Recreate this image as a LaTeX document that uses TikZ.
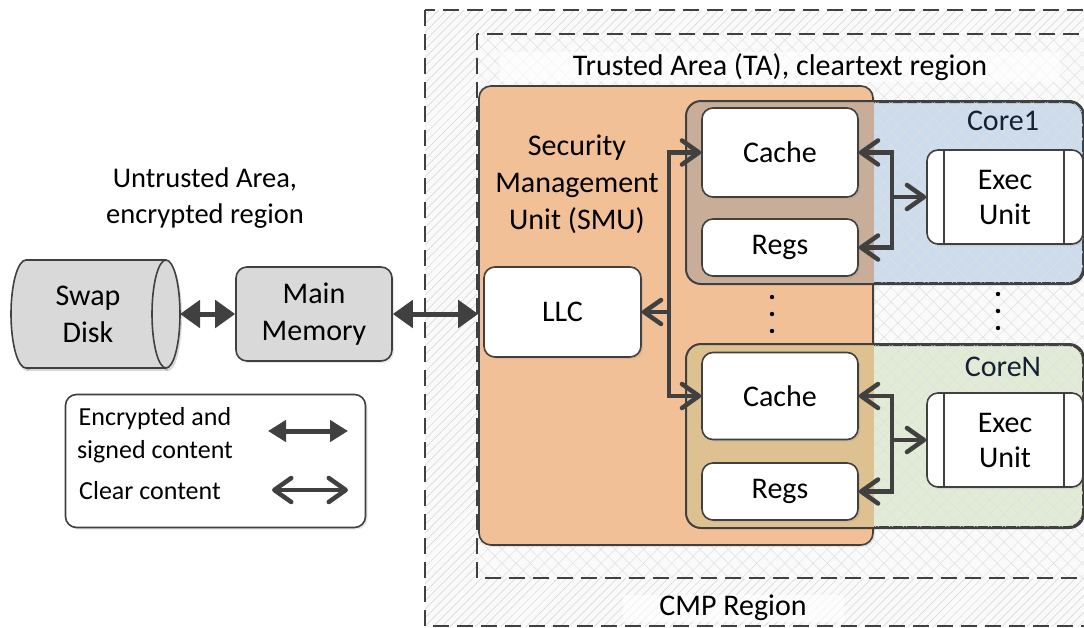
\documentclass[tikz,border=0pt]{standalone}
\usepackage{fontspec}
\setmainfont{Carlito}
\usetikzlibrary{arrows.meta,patterns.meta,shadows,calc}
\definecolor{ln}{HTML}{404040}
\definecolor{orng}{HTML}{F2C097}
\definecolor{blu}{HTML}{CCDCEC}
\definecolor{brn}{HTML}{C8AE99}
\definecolor{grn}{HTML}{E2EBD5}
\definecolor{grnor}{HTML}{DEC190}
\definecolor{gbox}{HTML}{D9D9D9}
\definecolor{navy}{HTML}{162033}
\begin{document}
\begin{tikzpicture}[x=1pt,y=-1pt,
  txt/.style={font=\fontsize{30}{37}\selectfont, align=center, text=black},
  shad/.style={drop shadow={opacity=0.18, shadow xshift=2pt, shadow yshift=-2pt}},
  wbox/.style={draw=ln, line width=1.6pt, fill=white, rounded corners=11pt, txt, inner sep=0pt, shad},
  gbx/.style={wbox, fill=gbox},
  region/.style={draw=ln, line width=1.6pt, dash pattern=on 16pt off 8pt},
  coreframe/.style={draw=ln, line width=2pt, rounded corners=15pt, inner sep=0pt},
  band/.style={fill=white, fill opacity=0.65, text opacity=1, inner sep=0pt, txt},
  enc/.style={draw=ln, line width=5pt, {Triangle[length=20pt 0 0,width=27pt 0 0]}-{Triangle[length=20pt 0 0,width=27pt 0 0]}},
  encs/.style={draw=ln, line width=5pt, {Triangle[length=18pt 0 0,width=21pt 0 0]}-{Triangle[length=18pt 0 0,width=21pt 0 0]}},
  clr/.style={draw=ln, line width=4.5pt, line join=miter},
  barb/.tip={Straight Barb[length=17pt 0 0,width=24pt 0 0,line cap=round,line join=round]},
]
\clip (0,0) rectangle (1084,627);
% outer CMP region
\path[fill=black!2, postaction={pattern={Lines[angle=45,distance=6pt,line width=0.5pt]}, pattern color=black!17}]
  (425,10) rectangle (1110,626);
\draw[region] (425,10) rectangle (1110,626);
% trusted area
\path[fill=black!2, postaction={pattern={Hatch[angle=45,distance=10pt,line width=0.5pt]}, pattern color=black!12}]
  (477,34) rectangle (1110,578);
\draw[region] (477,34) rectangle (1110,578);
\node[band, minimum width=560pt, minimum height=30pt] (talbl) at (780,67) {Trusted Area (TA), cleartext region};
\node[band, minimum width=221pt, minimum height=27pt] (cmplbl) at (733,608) {CMP Region};

% SMU
\node[draw=ln, line width=1.6pt, fill=orng, rounded corners=12pt, minimum width=394pt, minimum height=459pt, inner sep=0pt, shad] (smu) at (676,315.5) {};
\node[txt] (smulbl) at (577,184) {Security\\Management\\Unit (SMU)};

% Core1
\node[coreframe, fill=blu, postaction={pattern={Hatch[angle=45,distance=10pt,line width=0.5pt]}, pattern color=black!12}, minimum width=396pt, minimum height=181pt] (core1) at (885,192.5) {};
\begin{scope}
  \clip (smu.north west) rectangle (smu.south east);
  \fill[brn, rounded corners=15pt] (core1.north west) rectangle (core1.south east);
\end{scope}
\draw[ln, line width=2pt, rounded corners=15pt] (core1.north west) rectangle (core1.south east);
\node[txt, text=navy] (core1lbl) at (1003,121) {Core1};

% CoreN
\node[coreframe, fill=grn, postaction={pattern={Hatch[angle=45,distance=10pt,line width=0.5pt]}, pattern color=black!12}, minimum width=396pt, minimum height=182pt] (coreN) at (885,436) {};
\begin{scope}
  \clip (smu.north west) rectangle (smu.south east);
  \fill[grnor, rounded corners=15pt] (coreN.north west) rectangle (coreN.south east);
\end{scope}
\draw[ln, line width=2pt, rounded corners=15pt] (coreN.north west) rectangle (coreN.south east);
\node[txt, text=navy] (coreNlbl) at (1003,367) {CoreN};

% inner boxes
\node[wbox, minimum width=157pt, minimum height=90pt] (llc) at (562.5,312) {LLC};
\node[wbox, minimum width=156pt, minimum height=89pt] (cache1) at (780,152.5) {Cache};
\node[wbox, minimum width=156pt, minimum height=57pt] (regs1) at (780,247.5) {Regs};
\node[wbox, minimum width=156pt, minimum height=94pt, font=\fontsize{30}{35}\selectfont] (exec1) at (1005,197) {Exec\\Unit};
\draw[ln, line width=1.6pt] ([xshift=18pt]exec1.north west) -- ([xshift=18pt]exec1.south west);
\draw[ln, line width=1.6pt] ([xshift=-20pt]exec1.north east) -- ([xshift=-20pt]exec1.south east);
\node[wbox, minimum width=156pt, minimum height=87pt] (cacheN) at (780,396) {Cache};
\node[wbox, minimum width=156pt, minimum height=57pt] (regsN) at (780,491.5) {Regs};
\node[wbox, minimum width=156pt, minimum height=94pt, font=\fontsize{30}{35}\selectfont] (execN) at (1005,440) {Exec\\Unit};
\draw[ln, line width=1.6pt] ([xshift=18pt]execN.north west) -- ([xshift=18pt]execN.south west);
\draw[ln, line width=1.6pt] ([xshift=-20pt]execN.north east) -- ([xshift=-20pt]execN.south east);

% dots
\foreach \yy in {297,314,331} \fill (772,\yy) circle (2.2pt);
\foreach \yy in {294,311,328} \fill (998,\yy) circle (2.2pt);

% untrusted side
\node[txt, font=\fontsize{28.5}{36}\selectfont] (untr) at (205,198) {Untrusted Area,\\encrypted region};
% swap disk (horizontal cylinder)
\fill[black, opacity=0.15] (27,263) rectangle (168,371);
\fill[black, opacity=0.15] (27,317) ellipse [x radius=15, y radius=54];
\fill[black, opacity=0.15] (168,317) ellipse [x radius=14, y radius=54];
\fill[gbox] (26,260) rectangle (166,368);
\fill[gbox] (26,314) ellipse [x radius=15, y radius=54];
\fill[gbox] (166,314) ellipse [x radius=14, y radius=54];
\draw[ln, line width=1.6pt] (26,260) -- (166,260) (26,368) -- (166,368);
\draw[ln, line width=1.6pt] (166,314) ellipse [x radius=14, y radius=54];
\begin{scope}
  \clip (0,250) rectangle (26,380);
  \draw[ln, line width=1.6pt] (26,314) ellipse [x radius=15, y radius=54];
\end{scope}
\node[txt] (disk) at (88,314) {Swap\\Disk};
\coordinate (diskE) at (180,314);
\node[gbx, minimum width=156pt, minimum height=94pt] (mem) at (314,314) {Main\\Memory};

% legend
\node[wbox, minimum width=300pt, minimum height=133pt] (legend) at (215.5,461) {};
\node[txt, font=\fontsize{26}{33}\selectfont] (lg1) at (155,435) {Encrypted and\\signed content};
\node[txt, font=\fontsize{26}{33}\selectfont] (lg2) at (150,491) {Clear content};
\coordinate (le1a) at (268,431);
\coordinate (le1b) at (348,431);
\coordinate (le2a) at (272,490);
\coordinate (le2b) at (348,490);
\draw[encs] (le1a) -- (le1b);
\draw[clr, line cap=round, barb-barb] (le2a) -- (le2b);

% encrypted connectors
\draw[enc] (diskE) -- (mem.west);
\draw[enc] (mem.east) -- (mem.east -| smu.west);

% clear connectors (SMU bus)
\coordinate (busx) at (669,0);
\draw[clr, barb-barb] (cache1.west) -- (busx |- cache1.west) -- (busx |- cacheN.west) -- (cacheN.west);
\draw[clr, -barb] (busx |- llc.east) -- (llc.east);
% core1 internal
\coordinate (rx) at (892,0);
\draw[clr, barb-barb] (cache1.east) -- (rx |- cache1.east) -- (rx |- regs1.east) -- (regs1.east);
\draw[clr, -barb] (rx |- exec1.west) -- (exec1.west);
% coreN internal
\draw[clr, barb-barb] (cacheN.east) -- (rx |- cacheN.east) -- (rx |- regsN.east) -- (regsN.east);
\draw[clr, -barb] (rx |- execN.west) -- (execN.west);
\end{tikzpicture}
\end{document}
